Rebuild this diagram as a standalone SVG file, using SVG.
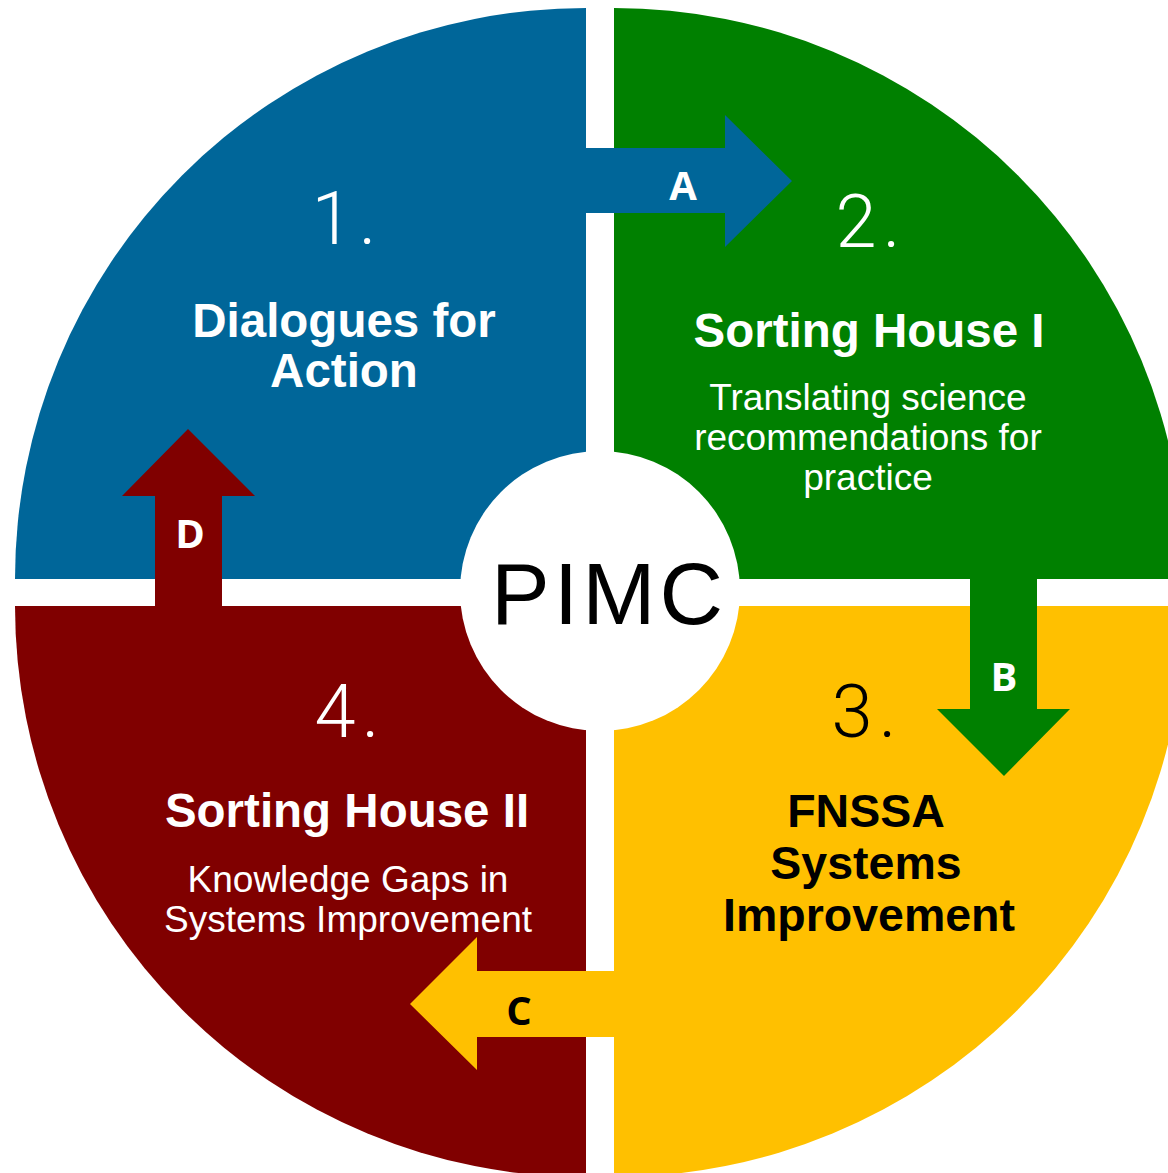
<svg xmlns="http://www.w3.org/2000/svg" width="1168" height="1173" viewBox="0 0 1168 1173">
<style>
.num{font-family:Roboto,"Open Sans","DejaVu Sans",sans-serif;font-weight:300;font-size:74px;text-anchor:middle;letter-spacing:6px}
.title{font-family:"Liberation Sans",Arial,sans-serif;font-weight:bold;font-size:47.5px;text-anchor:middle}
.title3{font-size:46.5px}
.sub{font-family:"Liberation Sans",Arial,sans-serif;font-size:37px;text-anchor:middle;fill:#fff}
.lbl{font-family:"Open Sans","Liberation Sans",sans-serif;font-weight:bold;font-size:40px;text-anchor:middle}
.w{fill:#fff}
.k{fill:#000}
</style>
<rect width="1168" height="1173" fill="#fff"/>
<g id="node1">
<path d="M586,579 L15,579 A571,571 0 0 1 586,8 Z" fill="#006699"/>
<text class="num w" x="347" y="244">1.</text>
<text class="title w" x="344" y="337">Dialogues for</text>
<text class="title w" x="344" y="387">Action</text>
</g>
<g id="node2">
<path d="M614,579 L614,8 A571,571 0 0 1 1185,579 Z" fill="#008000"/>
<text class="num w" x="871" y="247">2.</text>
<text class="title w" x="869" y="347">Sorting House I</text>
<text class="sub" x="868" y="410">Translating science</text>
<text class="sub" x="868" y="450">recommendations for</text>
<text class="sub" x="868" y="490">practice</text>
</g>
<g id="node3">
<path d="M614,606 L1185,606 A571,571 0 0 1 614,1177 Z" fill="#FFC000"/>
<text class="num k" x="867" y="737">3.</text>
<text class="title title3 k" x="866" y="827">FNSSA</text>
<text class="title title3 k" x="866" y="879">Systems</text>
<text class="title title3 k" x="869" y="931">Improvement</text>
</g>
<g id="node4">
<path d="M586,606 L586,1177 A571,571 0 0 1 15,606 Z" fill="#800000"/>
<text class="num w" x="350" y="737">4.</text>
<text class="title w" x="347" y="827">Sorting House II</text>
<text class="sub" x="348" y="892">Knowledge Gaps in</text>
<text class="sub" x="348" y="932">Systems Improvement</text>
</g>
<g id="connectors">
<g id="arrowA">
<polygon points="580,148 725,148 725,115 792,181 725,247 725,213 580,213" fill="#006699"/>
<text class="lbl w" x="683" y="200">A</text>
</g>
<g id="arrowB">
<polygon points="970,573 1037,573 1037,709 1070,709 1004,776 937,709 970,709" fill="#008000"/>
<text class="lbl w" x="1004" y="691">B</text>
</g>
<g id="arrowC">
<polygon points="620,971 477,971 477,937 410,1004 477,1070 477,1037 620,1037" fill="#FFC000"/>
<text class="lbl k" x="519" y="1025">C</text>
</g>
<g id="arrowD">
<polygon points="155,612 155,496 122,496 188,429 255,496 222,496 222,612" fill="#800000"/>
<text class="lbl w" x="190" y="548">D</text>
</g>
</g>
<g id="center">
<circle cx="600" cy="591" r="140" fill="#fff"/>
<text x="609" y="624" font-family="'Liberation Sans',Arial,sans-serif" font-size="88" letter-spacing="4" text-anchor="middle" fill="#000">PIMC</text>
</g>
</svg>
